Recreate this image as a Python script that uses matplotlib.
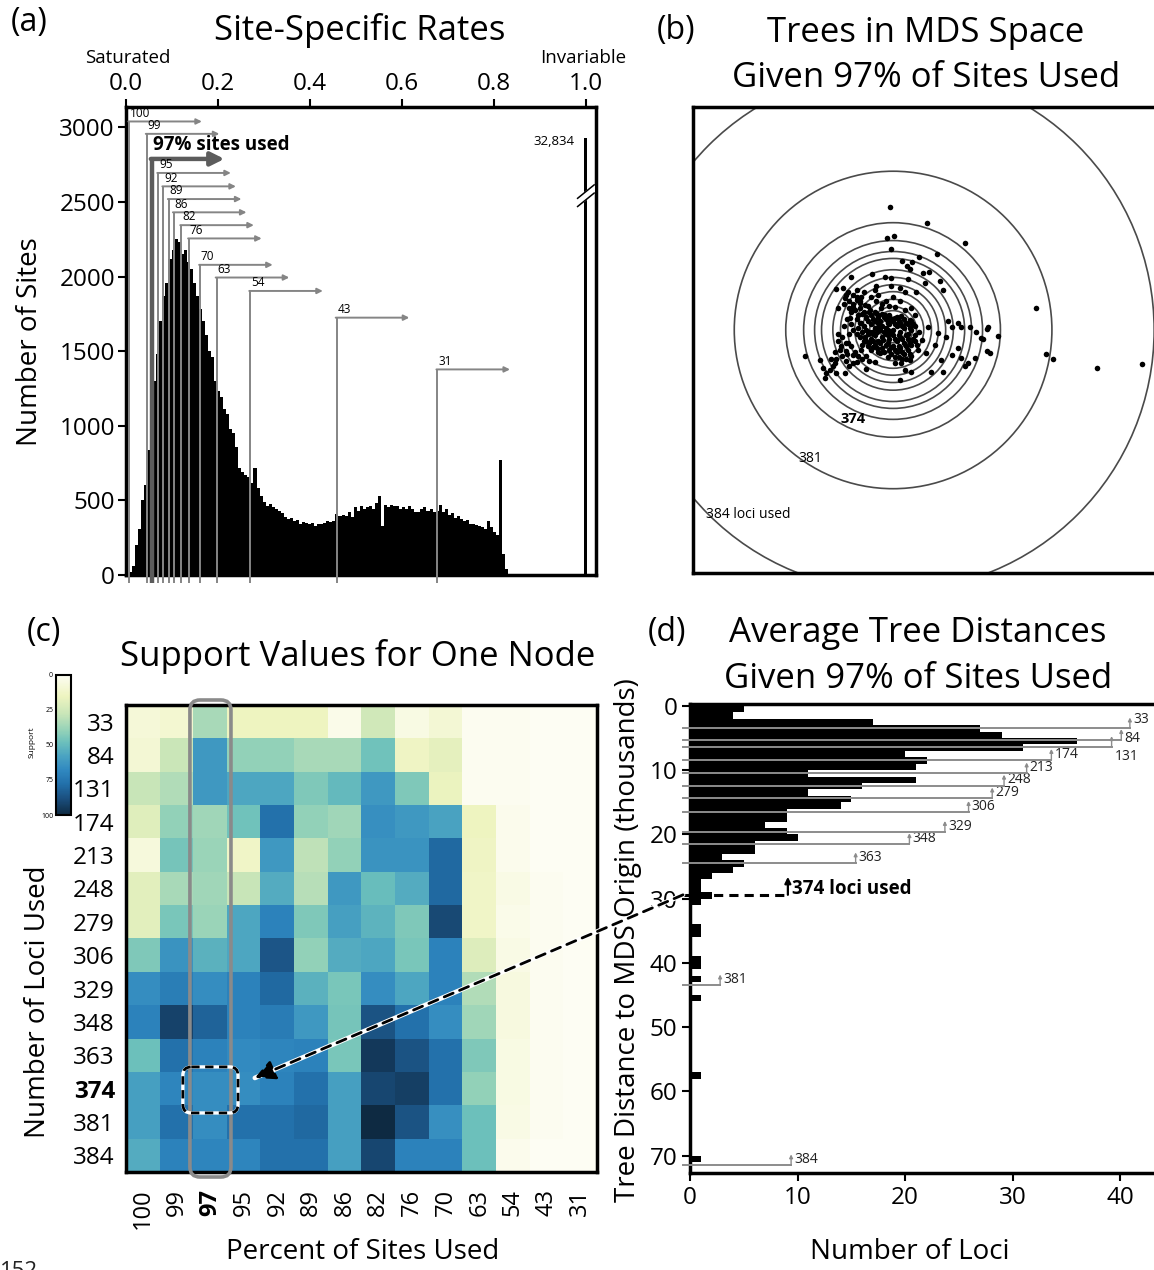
"""
Four panel figure: site rates, MDS trees, support heatmap, tree distances.
"""

import numpy as np
import matplotlib
matplotlib.use('Agg')
import matplotlib.pyplot as plt
from matplotlib.colors import LinearSegmentedColormap
from matplotlib.patches import Circle, FancyBboxPatch, ConnectionPatch

plt.rcParams['font.family'] = ['Open Sans', 'DejaVu Sans']

# ---- (a) histogram of site-specific rates ----
rate_bin_width = 0.0066
site_counts = [15, 20, 60, 200, 310, 500, 600, 840, 920, 1300,
               1480, 1700, 1870, 1960, 2120, 2180, 2250, 2230, 2150, 2180,
               2100, 2050, 1960, 1870, 1780, 1700, 1610, 1500, 1460, 1300,
               1230, 1190, 1110, 1080, 980, 950, 860, 720, 690, 670,
               655, 620, 720, 580, 530, 490, 465, 475, 455, 440,
               430, 415, 390, 375, 380, 365, 370, 340, 355, 350,
               345, 350, 330, 345, 340, 350, 365, 355, 360, 410,
               395, 400, 395, 420, 390, 455, 430, 460, 440, 455,
               460, 445, 485, 530, 330, 470, 455, 470, 460, 465,
               440, 455, 445, 465, 440, 420, 425, 440, 455, 430,
               445, 420, 430, 470, 420, 440, 400, 415, 380, 395,
               375, 360, 370, 345, 340, 335, 330, 325, 310, 360,
               325, 290, 270, 770, 140, 40, 5]
invariable_count = 32834
cut_percent = ['100', '99', '97', '95', '92', '89', '86', '82', '76', '70', '63', '54', '43', '31']
cut_rates = [0.007, 0.045, 0.056, 0.070, 0.081, 0.093, 0.104, 0.120, 0.137, 0.161,
             0.197, 0.270, 0.458, 0.677]
arrow_tops = [3040, 2957, 2789, 2695, 2605, 2520, 2431, 2345, 2256, 2079, 1994, 1904, 1725, 1378]

# ---- (b) trees in MDS space (thousands) ----
mds_points = [
    (-0.9, 33.6), (9.4, 29.2), (19.8, 23.7), (-1.8, 25.3), (0.2, 25.8), (-0.7, 22.2),
    (11.9, 20.8), (7.0, 19.9), (2.5, 18.9), (5.2, 18.7), (3.7, 17.5), (4.6, 16.7),
    (8.2, 15.7), (9.9, 15.8), (-11.4, 14.6), (-5.7, 15.3), (-2.1, 14.6), (-0.5, 14.2),
    (4.1, 13.9), (8.7, 13.0), (12.8, 13.4), (13.7, 11.0), (-4.6, 12.1), (-0.5, 12.1),
    (1.8, 11.4), (3.2, 10.3), (6.4, 10.5), (-15.5, 11.2), (-13.7, 11.6), (-12.3, 10.5),
    (-5.0, 11.0), (-13.2, 8.7), (-11.0, 9.6), (-10.0, 8.2), (-8.7, 9.1), (-9.1, 7.3),
    (-7.8, 6.8), (-4.6, 7.9), (-15.1, 5.9), (-11.0, 6.4), (-6.4, 5.5), (-3.2, 5.9),
    (0.5, 6.4), (3.2, 5.5), (5.0, 5.9), (-2.3, 4.1), (-9.6, 4.1), (-7.3, 3.2),
    (-5.0, 2.5), (-11.9, 3.2), (-1.4, 2.3), (0.5, 3.2), (2.3, 3.7), (4.6, 2.7),
    (5.9, 4.1), (15.1, 2.5), (17.8, 1.8),
    (-24.2, -7.1), (-20.1, -8.2), (-19.2, -10.5), (-18.3, -11.9), (-17.4, -11.0),
    (-18.7, -13.2), (-15.5, -11.7), (-13.2, -11.7), (-15.1, -1.1), (-14.2, -4.4),
    (-12.8, -5.9), (-12.3, -3.7), (-11.0, -6.8), (-10.0, -8.7), (-8.7, -5.5),
    (-7.3, -10.8), (-7.8, -1.8), (-5.5, -4.6), (-5.0, -8.7), (-3.7, -6.4), (-2.7, -2.7),
    (-1.4, 0.0), (-0.5, -4.6), (0.5, -7.3), (2.3, -9.1), (3.2, -11.0), (1.8, -13.7),
    (4.6, -8.2), (5.0, -11.4), (6.8, -5.5), (7.8, -2.7), (9.1, -6.4), (10.5, -11.4),
    (11.4, -4.1), (13.2, -8.2), (13.7, -11.4), (14.6, -1.8), (16.0, -6.8), (17.8, -5.0),
    (18.7, -7.8), (19.6, -10.0), (20.5, -9.1), (22.4, -7.8), (24.2, -2.3), (25.6, -5.9),
    (26.5, -6.4), (28.8, -1.6), (18.7, 0.9), (21.0, 0.9), (22.8, -0.5), (26.0, 0.9),
    (16.0, 0.9), (12.3, -0.9), (9.6, 0.9), (-4.1, 0.9), (-8.7, 1.8), (-11.0, 0.0),
    (-5.9, -0.5), (25.8, 0.4), (24.7, -2.6),
    (39.1, 5.9), (41.8, -6.6), (43.7, -8.0), (55.9, -10.5), (68.2, -9.4),
    (-9, 6), (-8, 5), (-7, 6.5), (-6, 4), (-5, 5), (-4, 3.5), (-3, 4.5), (-2, 3),
    (-1, 4), (0, 2.5), (1, 3.5), (2, 2), (3, 3), (4, 1.5), (5, 2.5), (6, 1),
    (-10, 3), (-9, 2), (-8, 1), (-7, 2.5), (-6, 1.5), (-5, 0.5), (-4, 2), (-3, 1),
    (-2, 0.5), (-1, 1.5), (0, 0), (1, 1), (2, -0.5), (3, 0.5), (4, -1), (5, 0),
    (6, -1.5), (7, -0.5), (-10, -1), (-9, -2), (-8, -3), (-7, -1), (-6, -2.5),
    (-5, -1.5), (-4, -3), (-3, -2), (-2, -1), (-1, -2.5), (0, -1.5), (1, -3), (2, -2),
    (3, -3.5), (4, -2.5), (5, -4), (6, -3), (-7, -4.5), (-6, -5.5), (-5, -4), (-4, -6),
    (-3, -5), (-2, -4), (-1, -5.5), (0, -4.5), (1, -6), (2, -5), (3, -6.5), (4, -5.5),
    (5, -7), (2.5, -8), (0.5, -9), (-1.5, -7.5), (-12, 8), (-11, 7), (-13, 9.5),
    (-10, 9), (-9, 8), (-11.5, 5), (-12.5, 3), (-13.5, 1), (-14, -2), (-15, -3),
    (-16, -6), (-17, -8), (-16, -9), (-14, -7), (-13, -8.5), (-12, -10), (-11, -9),
    (-8.5, 4.5), (-7.5, 3.5), (-6.5, 5), (-5.5, 3), (-4.5, 4.5), (-3.5, 2.5), (-2.5, 3.5),
    (-1.5, 2), (-0.5, 3), (0.5, 1.5), (1.5, 2.5), (2.5, 1), (3.5, 2), (4.5, 0.5), (5.5, 1.5),
    (-9.5, 0.5), (-8.5, -0.5), (-7.5, 0), (-6.5, -0.5), (-5.5, -1), (-4.5, -0.5), (-3.5, 0),
    (-2.5, -0.5), (-1.5, -1.5), (-0.5, -0.5), (0.5, -2.5), (1.5, -1.5), (2.5, -2.5),
    (3.5, -1.5), (4.5, -3.5), (5.5, -2.5), (6.5, -4), (-8.5, -4), (-7.5, -3), (-6.5, -3.5),
    (-5.5, -3), (-4.5, -5), (-3.5, -3.5), (-2.5, -6), (-1.5, -3.5), (-0.5, -6.5), (0.5, -5.5),
    (1.5, -4.5), (2.5, -6), (3.5, -4.5), (4.5, -6.5), (1.5, -7.5), (3.5, -8),
    (-10.5, 5.5), (-11.5, 1.5), (-12, -1), (-13, -3.5), (-11.5, -4.5), (-10.5, -6),
    (-9.5, -7), (-8.5, -8), (-7.5, -7), (-6.5, -8.5), (-12.5, -6.5), (-14.5, -5.5),
    (-15.5, -8), (-16.5, -10), (-13.5, 7), (-12, 6), (-10, 11), (-8, 10.5), (-6, 9),
    (-4, 9.5), (-2, 8), (0, 9), (2, 8), (-3, 7), (-1, 6.5),
]

# ---- (c) support values ----
loci_used = [33, 84, 131, 174, 213, 248, 279, 306, 329, 348, 363, 374, 381, 384]
percent_used = [100, 99, 97, 95, 92, 89, 86, 82, 76, 70, 63, 54, 43, 31]
support = [
    [8, 10, 35, 15, 15, 15, 3, 25, 5, 9, 1, 1, 0, 0],
    [9, 27, 62, 40, 40, 35, 35, 47, 14, 18, 1, 1, 0, 0],
    [28, 33, 62, 57, 57, 44, 50, 62, 44, 16, 1, 1, 0, 0],
    [20, 40, 37, 47, 77, 40, 37, 65, 62, 58, 15, 2, 0, 0],
    [7, 46, 38, 13, 62, 30, 40, 64, 64, 80, 14, 2, 0, 0],
    [19, 35, 37, 28, 55, 32, 62, 49, 55, 80, 13, 4, 1, 0],
    [19, 45, 38, 57, 70, 44, 59, 52, 44, 90, 13, 3, 1, 0],
    [44, 64, 53, 57, 86, 40, 55, 57, 45, 70, 21, 4, 1, 0],
    [66, 72, 66, 70, 80, 53, 45, 66, 57, 70, 33, 6, 1, 0],
    [70, 92, 82, 70, 73, 62, 46, 87, 77, 66, 37, 6, 1, 0],
    [48, 77, 70, 67, 69, 70, 45, 95, 87, 77, 44, 5, 1, 0],
    [59, 69, 66, 66, 70, 77, 59, 91, 93, 77, 40, 5, 1, 0],
    [59, 77, 66, 77, 77, 80, 59, 100, 87, 65, 48, 4, 1, 0],
    [55, 70, 69, 69, 77, 77, 59, 91, 70, 70, 48, 2, 0, 0],
]

# ---- (d) average tree distances ----
loci_per_bin = [5, 4, 17, 27, 29, 36, 31, 20, 22, 21,
                11, 21, 16, 11, 15, 14, 9, 9, 7, 9,
                10, 6, 6, 3, 5, 4, 2, 1, 1, 2,
                1, 0, 0, 0, 1, 1, 0, 0, 0, 1,
                1, 0, 1, 0, 0, 1, 0, 0, 0, 0,
                0, 0, 0, 0, 0, 0, 0, 1, 0, 0,
                0, 0, 0, 0, 0, 0, 0, 0, 0, 0,
                1, 0]
mean_distance = [3.5, 5.3, 6.4, 8.4, 10.5, 12.4, 14.4, 16.5, 19.6, 21.5, 24.5, 29.4, 43.5, 71.5]
label_x = [40.9, 40.1, 39.2, 33.6, 31.3, 29.2, 28.1, 25.9, 23.7, 20.4, 15.4, 9.1, 2.8, 9.4]

W, H = 1154, 1270


def fx(px):
    return px / W


def fy(py):
    return 1 - py / H


def box(left, top, right, bottom):
    return [fx(left), fy(bottom), (right - left) / W, (bottom - top) / H]


fig = plt.figure(figsize=(W / 100, H / 100), dpi=100)
TICK = 17.5
TITLE = 25
LABEL = 20

# ================= (a) =================
axa = fig.add_axes(box(126, 107, 596, 575))
edges = np.arange(len(site_counts)) * rate_bin_width
axa.bar(edges, site_counts, width=rate_bin_width, align='edge', color='black', linewidth=0)
axa.bar(1.0, min(invariable_count, 2930), width=0.0066, color='black', linewidth=0)
# axis break on the invariable bar
axa.fill([0.982, 1.018, 1.018, 0.982], [2470, 2560, 2615, 2525], color='white', zorder=4)
for yb in (2470, 2525):
    axa.plot([0.982, 1.018], [yb, yb + 90], color='black', lw=1.1, zorder=5)
axa.text(0.976, 2905, '{:,}'.format(invariable_count), fontsize=9.5, ha='right', va='center')

for pct, r, top in zip(cut_percent, cut_rates, arrow_tops):
    main = pct == '97'
    col = '#5c5c5c' if main else '#858585'
    lw = 3.2 if main else 1.4
    axa.plot([r, r], [-55, top], color=col, lw=lw, clip_on=False, zorder=3,
             solid_capstyle='butt')
    axa.annotate('', xy=(r + 0.158, top), xytext=(r - 0.002, top),
                 arrowprops=dict(arrowstyle='-|>', color=col, lw=lw,
                                 mutation_scale=20 if main else 8,
                                 shrinkA=0, shrinkB=0), zorder=3)
    if main:
        axa.text(0.058, 2885, '97% sites used', fontsize=13.5, fontweight='bold',
                 ha='left', va='center')
    else:
        axa.text(r + 0.002, top + 12, pct, fontsize=8.5, ha='left', va='bottom')

axa.set_xlim(0, 1.022)
axa.set_ylim(0, 3137)
axa.xaxis.tick_top()
axa.set_xticks([0, 0.2, 0.4, 0.6, 0.8, 1.0])
axa.set_xticklabels(['0.0', '0.2', '0.4', '0.6', '0.8', '1.0'])
axa.tick_params(axis='x', top=True, bottom=False, length=6, width=1.5, labelsize=TICK, pad=2)
axa.set_yticks(range(0, 3001, 500))
axa.tick_params(axis='y', length=6, width=1.5, labelsize=TICK, pad=2)
for s in axa.spines.values():
    s.set_linewidth(2.5)

fig.text(fx(29), fy(22), '(a)', fontsize=23, ha='center', va='center')
fig.text(fx(360), fy(30), 'Site-Specific Rates', fontsize=TITLE, ha='center', va='center')
fig.text(fx(128), fy(58), 'Saturated', fontsize=13.5, ha='center', va='center')
fig.text(fx(583), fy(58), 'Invariable', fontsize=13.5, ha='center', va='center')
fig.text(fx(30), fy(342), 'Number of Sites', fontsize=LABEL, rotation=90, ha='center', va='center')

# ================= (b) =================
axb = fig.add_axes(box(693, 107, 1160, 573))
for r in mean_distance:
    axb.add_patch(Circle((0, 0), r, fill=False, edgecolor='#4a4a4a', lw=1.2))
pts = np.array(mds_points)
axb.scatter(pts[:, 0], pts[:, 1], s=16, color='black', linewidths=0, zorder=3)
axb.text(-11, -24.5, '374', fontsize=10.5, fontweight='bold', ha='center', va='center')
axb.text(-22.8, -35.2, '381', fontsize=10, ha='center', va='center')
axb.text(-51.3, -50.7, '384 loci used', fontsize=10, ha='left', va='center')
axb.set_xlim(-54.8, 73.1)
axb.set_ylim(-66.6, 61.1)
axb.set_xticks([])
axb.set_yticks([])
for s in axb.spines.values():
    s.set_linewidth(2.5)

fig.text(fx(676), fy(30), '(b)', fontsize=23, ha='center', va='center')
fig.text(fx(926), fy(33), 'Trees in MDS Space', fontsize=TITLE, ha='center', va='center')
fig.text(fx(926), fy(78), 'Given 97% of Sites Used', fontsize=TITLE, ha='center', va='center')

# ================= (c) =================
cmap = LinearSegmentedColormap.from_list('support', [
    (0.0, '#fdfdf3'), (0.15, '#eef4c0'), (0.28, '#c8e5b8'), (0.40, '#92d1b8'),
    (0.48, '#6cc0bc'), (0.58, '#4aa3c2'), (0.68, '#3088c0'), (0.78, '#2270aa'),
    (0.88, '#1b5080'), (1.0, '#0e2a42')])

axc = fig.add_axes(box(126, 705, 597, 1172))
im = axc.imshow(np.array(support), cmap=cmap, vmin=0, vmax=100, aspect='auto',
                interpolation='nearest')
axc.set_yticks(range(len(loci_used)))
axc.set_yticklabels([str(v) for v in loci_used])
axc.set_xticks(range(len(percent_used)))
axc.set_xticklabels([str(v) for v in percent_used], rotation=90)
axc.tick_params(axis='y', length=0, labelsize=TICK, pad=8)
axc.tick_params(axis='x', length=0, labelsize=17, pad=12)
for lab in axc.get_yticklabels():
    if lab.get_text() == '374':
        lab.set_fontweight('bold')
for lab in axc.get_xticklabels():
    if lab.get_text() == '97':
        lab.set_fontweight('bold')
for s in axc.spines.values():
    s.set_linewidth(2.5)

# highlight the 97% column and the chosen cell
axc.add_patch(FancyBboxPatch((1.40, -0.65), 1.22, 14.3, boxstyle='round,pad=0,rounding_size=0.3',
                             fill=False, edgecolor='#8a8a8a', lw=2.6, clip_on=False, zorder=4))
for style, col, lw in (('solid', 'white', 2.4), ((0, (3, 2)), 'black', 2.0)):
    axc.add_patch(FancyBboxPatch((1.19, 10.35), 1.64, 1.38, boxstyle='round,pad=0,rounding_size=0.25',
                                 fill=False, edgecolor=col, lw=lw, linestyle=style, zorder=5))

fig.text(fx(44), fy(632), '(c)', fontsize=23, ha='center', va='center')
fig.text(fx(358), fy(656), 'Support Values for One Node', fontsize=TITLE, ha='center', va='center')
fig.text(fx(363), fy(1252), 'Percent of Sites Used', fontsize=LABEL, ha='center', va='center')
fig.text(fx(38), fy(1002), 'Number of Loci Used', fontsize=LABEL, rotation=90, ha='center', va='center')

# colour bar
axcb = fig.add_axes(box(56, 675, 71, 815))
cb = fig.colorbar(im, cax=axcb, ticks=[0, 25, 50, 75, 100])
axcb.invert_yaxis()
axcb.yaxis.set_ticks_position('left')
axcb.tick_params(labelsize=5, length=0, pad=2)
cb.outline.set_linewidth(1.5)
fig.text(fx(32), fy(742), 'Support', fontsize=6, rotation=90, ha='center', va='center')

# ================= (d) =================
axd = fig.add_axes(box(690, 704, 1160, 1173))
axd.barh(np.arange(len(loci_per_bin)), loci_per_bin, height=1.0, align='edge',
         color='black', linewidth=0)
axd.set_xlim(0, 43.7)
axd.set_ylim(72.7, -0.3)
axd.set_xticks([0, 10, 20, 30, 40])
axd.set_yticks(range(0, 71, 10))
axd.tick_params(length=6, width=1.5, labelsize=TICK, pad=3)
axd.spines['right'].set_visible(False)
for s in ('left', 'top', 'bottom'):
    axd.spines[s].set_linewidth(2.5)

label_dy = {33: -1.4, 84: -0.3, 131: 0.3}
for n, d, xe in zip(loci_used, mean_distance, label_x):
    if n == 374:
        axd.plot([-0.65, xe], [d, d], color='black', lw=2.2, ls=(0, (3, 2)),
                 clip_on=False, zorder=4)
        axd.annotate('', xy=(xe, d - 2.8), xytext=(xe, d),
                     arrowprops=dict(arrowstyle='-|>', color='black', lw=1.6,
                                     mutation_scale=9, shrinkA=0, shrinkB=0))
        axd.text(xe + 0.4, d - 0.9, '374 loci used', fontsize=13.5, fontweight='bold',
                 ha='left', va='center')
        continue
    axd.plot([-0.65, xe], [d, d], color='#8c8c8c', lw=1.4, clip_on=False, zorder=4)
    axd.annotate('', xy=(xe, d - 1.7), xytext=(xe, d),
                 arrowprops=dict(arrowstyle='-|>', color='#8c8c8c', lw=1.0,
                                 mutation_scale=5, shrinkA=0, shrinkB=0))
    if n == 131:
        axd.text(xe + 0.3, d + 0.3, str(n), fontsize=10, ha='left', va='top', color='#222222')
    else:
        axd.text(xe + 0.3, d + label_dy.get(n, -0.9), str(n), fontsize=10, ha='left',
                 va='center', color='#222222', clip_on=False)

fig.text(fx(667), fy(632), '(d)', fontsize=23, ha='center', va='center')
fig.text(fx(918), fy(633), 'Average Tree Distances', fontsize=TITLE, ha='center', va='center')
fig.text(fx(918), fy(679), 'Given 97% of Sites Used', fontsize=TITLE, ha='center', va='center')
fig.text(fx(910), fy(1252), 'Number of Loci', fontsize=LABEL, ha='center', va='center')
fig.text(fx(628), fy(940), 'Tree Distance to MDS Origin (thousands)', fontsize=LABEL,
         rotation=90, ha='center', va='center')

# dashed link from the 374-loci line in (d) to its cell in (c)
for col, lw, ls, style in (('white', 3.4, 'solid', '-'), ('black', 2.0, (0, (3.5, 2.5)), '-|>')):
    con = ConnectionPatch(xyA=(-0.65, 29.4), coordsA=axd.transData,
                          xyB=(3.33, 10.68), coordsB=axc.transData,
                          arrowstyle=style, mutation_scale=30, color=col, lw=lw,
                          linestyle=ls, shrinkA=0, shrinkB=0, zorder=6)
    fig.add_artist(con)

fig.text(fx(0), fy(1261), '152', fontsize=16, ha='left', va='top', color='#222222')

fig.savefig('out.png', dpi=100)
